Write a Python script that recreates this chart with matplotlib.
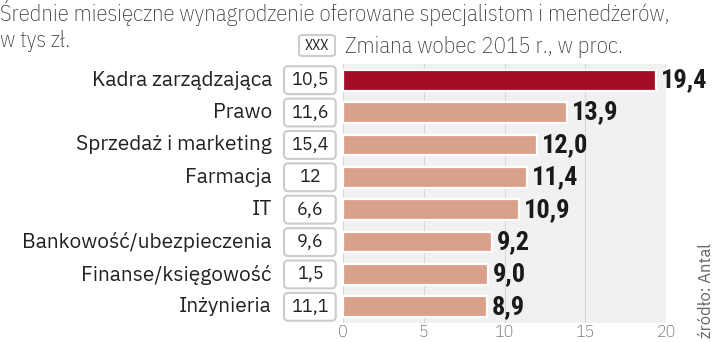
import matplotlib
matplotlib.use("Agg")
import matplotlib.pyplot as plt
from matplotlib.patches import FancyBboxPatch

categories = ["Kadra zarządzająca", "Prawo", "Sprzedaż i marketing", "Farmacja", "IT",
              "Bankowość/ubezpieczenia", "Finanse/księgowość", "Inżynieria"]
salary = ["10,5", "11,6", "15,4", "12", "6,6", "9,6", "1,5", "11,1"]
change = [19.4, 13.9, 12.0, 11.4, 10.9, 9.2, 9.0, 8.9]
xticks = [0, 5, 10, 15, 20]

COND = ["IBM Plex Sans Condensed", "DejaVu Sans"]
PLEX = ["IBM Plex Sans", "DejaVu Sans"]
BOLDC = ["Roboto Condensed", "IBM Plex Sans Condensed", "DejaVu Sans"]

W, H = 720, 342
fig = plt.figure(figsize=(7.2, 3.42), dpi=100)
x0, x1 = 343, 666
ytop, ybot = 64, 323
ax = fig.add_axes([x0 / W, 1 - ybot / H, (x1 - x0) / W, (ybot - ytop) / H])
ax.set_facecolor("#f1f1f1")
ax.set_xlim(0, 20)
n = len(categories)
ax.set_ylim(n - 0.5, -0.5)
for s in ax.spines.values():
    s.set_visible(False)
ax.set_xticks(xticks)
ax.set_xticklabels([str(t) for t in xticks], fontsize=13, color="#555555",
                   family=COND, fontweight="light")
ax.tick_params(axis="x", length=0, pad=1)
ax.set_yticks([])
for t in xticks[:-1]:
    ax.axvline(t, color="#d6d6d6", lw=0.8, zorder=0)

colors = ["#a30d26"] + ["#d9a08a"] * (n - 1)
ax.barh(range(n), change, height=0.64, color=colors, edgecolor="white", linewidth=1.6, zorder=3)

for i, (cat, sal, ch) in enumerate(zip(categories, salary, change)):
    ax.text(ch + 0.3, i, f"{ch:.1f}".replace(".", ","), va="center", ha="left",
            fontsize=19, fontweight="bold", color="#1a1a1a", family=BOLDC, zorder=4)
    box = FancyBboxPatch((-3.65, i - 0.43), 3.2, 0.86,
                         boxstyle="round,pad=0,rounding_size=0.25", mutation_aspect=0.5,
                         facecolor="white", edgecolor="#cccccc", linewidth=1.5, clip_on=False,
                         zorder=4)
    ax.add_patch(box)
    ax.text(-2.05, i, sal, va="center", ha="center", fontsize=13, color="#222222",
            family=PLEX, zorder=5)
    ax.text(-4.4, i, cat, va="center", ha="right", fontsize=15, color="#222222",
            family=PLEX)

fig.text(0 / W, 1 - 21 / H, "Średnie miesięczne wynagrodzenie oferowane specjalistom i menedżerów,",
         fontsize=16.5, color="#333333", va="baseline", ha="left", family=COND, fontweight="light")
fig.text(0 / W, 1 - 47 / H, "w tys zł.", fontsize=16.5, color="#333333", va="baseline", ha="left",
         family=COND, fontweight="light")

# legend
lbox = FancyBboxPatch((299 / W, 1 - 56 / H), 36 / W, 21 / H,
                      boxstyle="round,pad=0,rounding_size=0.006",
                      transform=fig.transFigure, facecolor="white", edgecolor="#cccccc",
                      linewidth=1.5)
fig.add_artist(lbox)
fig.text(317 / W, 1 - 45.5 / H, "XXX", fontsize=10.5, color="#222222", ha="center", va="center",
         family=COND)
fig.text(345 / W, 1 - 53 / H, "Zmiana wobec 2015 r., w proc.", fontsize=16.5, color="#333333",
         ha="left", va="baseline", family=COND, fontweight="light")

fig.text(706 / W, 1 - 338 / H, "źródło: Antal", rotation=90, fontsize=12, color="#666666",
         ha="center", va="bottom", family=PLEX, fontweight="light")

fig.savefig("out.png", dpi=100)
